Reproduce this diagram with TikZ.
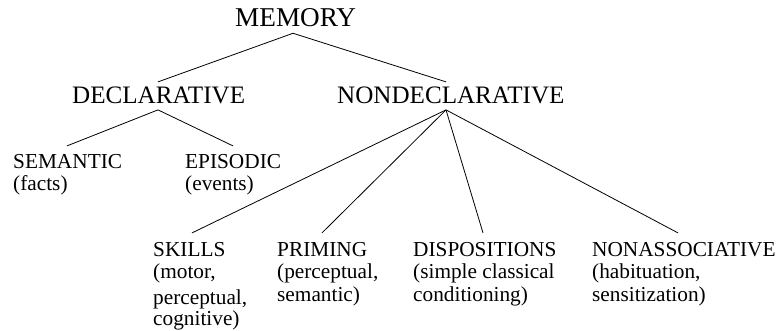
\documentclass[tikz,border=0pt]{standalone}
\usepackage{fontspec}
\setmainfont{Liberation Serif}
\begin{document}
\begin{tikzpicture}[x=1pt,y=-1pt,
  every node/.style={inner sep=0pt, anchor=base west},
  lvlA/.style={font=\fontsize{27.2}{27.2}\selectfont, outer ysep=6pt},
  lvlB/.style={font=\fontsize{25.1}{25.1}\selectfont, outer ysep=5.5pt},
  lvlC/.style={font=\fontsize{21.3}{21.3}\selectfont, outer ysep=9pt},
  sub/.style={font=\fontsize{21.3}{21.3}\selectfont},
  link/.style={draw=black, line width=0.8pt}]
\useasboundingbox (0,0) rectangle (781,331);

% headings
\node[lvlA] (mem) at (235,27) {MEMORY};
\node[lvlB] (decl) at (72,104) {DECLARATIVE};
\node[lvlB] (nondecl) at (337,104) {NONDECLARATIVE};

\node[lvlC] (sem) at (13,169) {SEMANTIC};
\node[sub] (semA) at (13,190) {(facts)};
\node[lvlC] (epi) at (185,169) {EPISODIC};
\node[sub] (epiA) at (185,190) {(events)};

\node[lvlC] (skl) at (153,256) {SKILLS};
\node[sub] (sklA) at (153,278) {(motor,};
\node[sub] (sklB) at (153,304) {perceptual,};
\node[sub] (sklC) at (153,325) {cognitive)};

\node[lvlC] (pri) at (277,256) {PRIMING};
\node[sub] (priA) at (277,278) {(perceptual,};
\node[sub] (priB) at (277,301) {semantic)};

\node[lvlC] (dis) at (413,256) {DISPOSITIONS};
\node[sub] (disA) at (413,278) {(simple classical};
\node[sub] (disB) at (413,301) {conditioning)};

\node[lvlC] (non) at (592,256) {NONASSOCIATIVE};
\node[sub] (nonA) at (592,278) {(habituation,};
\node[sub] (nonB) at (592,301) {sensitization)};

% connectors
\path[link] ([xshift=58pt]mem.south west) -- ([xshift=86pt]decl.north west);
\path[link] ([xshift=58pt]mem.south west) -- ([xshift=109pt]nondecl.north west);

\path[link] ([xshift=86pt]decl.south west) -- ([xshift=54pt]sem.north west);
\path[link] ([xshift=86pt]decl.south west) -- ([xshift=48pt]epi.north west);

\path[link] ([xshift=109pt]nondecl.south west) -- ([xshift=39pt]skl.north west);
\path[link] ([xshift=109pt]nondecl.south west) -- ([xshift=45pt]pri.north west);
\path[link] ([xshift=109pt]nondecl.south west) -- ([xshift=70pt]dis.north west);
\path[link] ([xshift=109pt]nondecl.south west) -- ([xshift=86pt]non.north west);
\end{tikzpicture}
\end{document}
